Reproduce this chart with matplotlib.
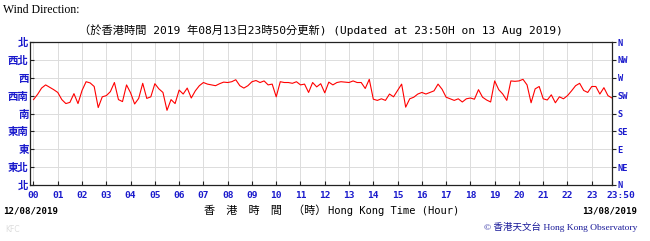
import numpy as np
import matplotlib
matplotlib.use("Agg")
import matplotlib.pyplot as plt
from matplotlib.transforms import ScaledTranslation, blended_transform_factory

# ---- data (10-minute wind direction, degrees, 00:00 .. 23:50) ----
directions = [
    215, 228, 244, 252, 246, 240, 233, 215, 205, 208,
    230, 205, 238, 260, 257, 248, 195, 222, 225, 235,
    258, 215, 210, 252, 232, 204, 218, 256, 218, 222,
    255, 242, 233, 188, 215, 205,
    239, 229, 244, 219, 237, 250, 258, 254, 252, 250,
    255, 259, 258, 260, 265, 250, 244, 250, 260, 263,
    258, 262, 252, 254, 222, 260, 258, 258, 256, 260,
    252, 254, 233, 258, 247, 255,
    232, 259, 252, 258, 260, 259, 258, 262, 258, 258,
    243, 266, 216, 213, 217, 213, 229, 222, 238, 254,
    196, 217, 221, 229, 233, 229, 233, 237, 254, 241,
    221, 217, 213, 217, 209, 217,
    219, 216, 240, 221, 214, 209, 262, 240, 229, 213,
    262, 261, 262, 266, 252, 207, 242, 248, 217, 214,
    227, 207, 222, 217, 225, 237, 250, 256, 238, 233,
    248, 248, 229, 245, 225, 219,
]
hour_labels = ["%02d" % h for h in range(24)]
end_label = "23:50"
left_labels = ["北", "東北", "東", "東南", "南", "西南", "西", "西北", "北"]
right_labels = ["N", "NE", "E", "SE", "S", "SW", "W", "NW", "N"]
title_text = "（於香港時間 2019 年08月13日23時50分更新) (Updated at 23:50H on 13 Aug 2019)"

W, H = 650, 241
fig = plt.figure(figsize=(W / 100, H / 100), dpi=100)
fig.patch.set_facecolor("white")

L, R, T, B = 30, 612, 42, 185
ax = fig.add_axes([L / W, 1 - B / H, (R - L) / W, (B - T) / H])

times = np.arange(len(directions)) / 6.0
ax.plot(times, directions, color="#ff0000", lw=0.8)

end_time = 23 + 50 / 60
ax.set_xlim(-0.144, end_time)
ax.set_ylim(0, 360)

ax.set_xticks(list(range(24)) + [end_time])
ax.set_xticklabels(hour_labels + [""])
ax.set_yticks(np.arange(0, 361, 45))
ax.set_yticklabels(left_labels)

ax.grid(True, color="#dcdcdc", lw=0.7)
ax.set_axisbelow(True)
for s in ax.spines.values():
    s.set_color("#222222")
    s.set_linewidth(0.9)

ax.tick_params(axis="x", direction="in", length=3, pad=4, colors="#222222",
               labelcolor="#1a1acc", labelsize=6.8)
ax.tick_params(axis="y", direction="in", length=3, pad=1, colors="#222222",
               labelcolor="#1a1acc", labelsize=7.5)
for lab in ax.get_xticklabels():
    lab.set_fontfamily("DejaVu Sans Mono")
    lab.set_fontweight("bold")
for lab in ax.get_yticklabels():
    lab.set_fontfamily(["Noto Sans CJK TC", "DejaVu Sans"])
    lab.set_fontweight("bold")

# "23:50" end label, shifted right like the original
tr = blended_transform_factory(ax.transData, ax.transAxes) + \
    ScaledTranslation(9 / 100, -11 / 100, fig.dpi_scale_trans)
ax.text(end_time, 0, end_label, transform=tr, ha="center", va="center",
        family="DejaVu Sans Mono", fontweight="bold", fontsize=6.8,
        color="#1a1acc")

ax2 = ax.twinx()
ax2.set_ylim(0, 360)
ax2.set_yticks(np.arange(0, 361, 45))
ax2.set_yticklabels(right_labels)
ax2.tick_params(axis="y", direction="out", length=3, pad=1, colors="#222222",
                labelcolor="#1a1acc", labelsize=6.2)
for lab in ax2.get_yticklabels():
    lab.set_fontfamily("DejaVu Sans Mono")
    lab.set_fontweight("bold")
for s in ax2.spines.values():
    s.set_visible(False)

# ---- texts ----
fig.text(3 / W, 1 - 10 / H, "Wind Direction:", family="Liberation Serif",
         fontsize=8.5, va="center", ha="left")
fig.text(321 / W, 1 - 30 / H, title_text,
         family=["DejaVu Sans Mono", "Noto Sans CJK TC"], fontsize=8.1,
         va="center", ha="center")
fig.text(3 / W, 1 - 211 / H, "12/08/2019", family="DejaVu Sans Mono",
         fontweight="bold", fontsize=6.6, va="center", ha="left")
fig.text(637 / W, 1 - 211 / H, "13/08/2019", family="DejaVu Sans Mono",
         fontweight="bold", fontsize=6.6, va="center", ha="right")
fig.text(326 / W, 1 - 211 / H, "香　港　時　間　（時）",
         family=["Noto Sans CJK TC", "DejaVu Sans"], fontsize=8,
         va="center", ha="right")
fig.text(328 / W, 1 - 211 / H, "Hong Kong Time (Hour)",
         family="DejaVu Sans Mono", fontsize=7.5, va="center", ha="left")
fig.text(637 / W, 1 - 227 / H, "© 香港天文台 Hong Kong Observatory",
         family=["Liberation Serif", "Noto Sans CJK TC"], fontsize=6.8,
         color="#1a1a99", va="center", ha="right")
fig.text(5 / W, 1 - 229 / H, "KFC", family="DejaVu Sans", fontsize=5.5,
         color="#dddddd", va="center", ha="left")

fig.savefig("out.png", dpi=100)
